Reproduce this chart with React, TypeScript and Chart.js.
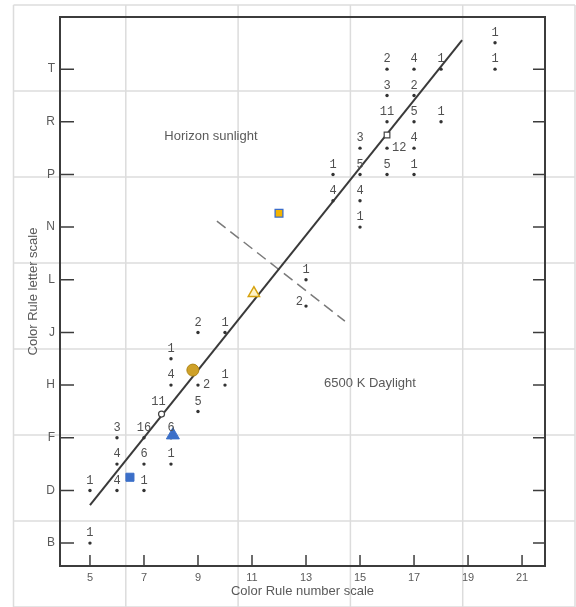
import React, { useEffect, useRef } from "react";
import { Chart, registerables } from "chart.js";

Chart.register(...registerables);

// Axis ticks
const letterTicks = ["B", "D", "F", "H", "J", "L", "N", "P", "R", "T"];
const numberTicks = [5, 7, 9, 11, 13, 15, 17, 19, 21];
const letterValue = (l: string) => l.charCodeAt(0) - 64; // A=1, B=2, ...

// Observation dots: Color Rule number (x), letter index (y), count label
const dotX = [5, 5, 6, 6, 6, 7, 7, 7, 8, 8, 8, 8, 9, 9, 9, 10, 10, 13, 13, 14, 14, 15, 15, 15, 15, 16, 16, 16, 16, 16, 17, 17, 17, 17, 17, 18, 18, 20, 20];
const dotY = [2, 4, 4, 5, 6, 4, 5, 6, 5, 6, 8, 9, 7, 8, 10, 8, 10, 11, 12, 15, 16, 14, 15, 16, 17, 16, 17, 18, 19, 20, 16, 17, 18, 19, 20, 18, 20, 20, 21];
const dotCount = ["1", "1", "4", "4", "3", "1", "6", "16", "1", "6", "4", "1", "5", "2", "2", "1", "1", "2", "1", "4", "1", "1", "4", "5", "3", "5", "12", "11", "3", "2", "1", "4", "5", "2", "4", "1", "1", "1", "1"];
const dotLabelSide = ["up", "up", "up", "up", "up", "up", "up", "up", "up", "up", "up", "up", "up", "right", "up", "up", "up", "left", "up", "up", "up", "up", "up", "up", "up", "up", "right", "up", "up", "up", "up", "up", "up", "up", "up", "up", "up", "up", "up"];

// Mean points on the fitted line
const meanX = [7.65];
const meanY = [6.9];
const meanLabel = ["11"];
const meanSquareX = [16.0];
const meanSquareY = [17.5];

// Fitted line and boundary (dashed) line
const fitX = [5.0, 18.78];
const fitY = [3.44, 21.1];
const boundaryX = [9.7, 14.44];
const boundaryY = [14.23, 10.43];

// Colored reference markers
const goldCircle = { x: 8.81, y: 8.57 };
const goldTriangle = { x: 11.07, y: 11.49 };
const goldSquare = { x: 12.0, y: 14.53 };
const blueTriangle = { x: 8.07, y: 6.1 };
const blueSquare = { x: 6.48, y: 4.5 };

// Region annotations
const noteText = ["Horizon sunlight", "6500 K Daylight"];
const noteX = [9.48, 15.37];
const noteY = [17.46, 8.08];

const TEXT = "#5a5a5a";
const FONT = "'Liberation Sans', Arial, sans-serif";

const overlayGrid = {
  id: "overlayGrid",
  beforeDraw(chart: any) {
    const { ctx, width, height } = chart;
    ctx.save();
    ctx.fillStyle = "#ffffff";
    ctx.fillRect(0, 0, width, height);
    ctx.strokeStyle = "#dcdcdc";
    ctx.lineWidth = 1.5;
    const x0 = 13.5, x1 = 575, y0 = 5, y1 = 607;
    const cols = 5, rows = 7;
    for (let i = 0; i <= cols; i++) {
      const x = x0 + ((x1 - x0) * i) / cols;
      ctx.beginPath();
      ctx.moveTo(x, y0);
      ctx.lineTo(x, height);
      ctx.stroke();
    }
    for (let j = 0; j <= rows; j++) {
      const y = y0 + ((y1 - y0) * j) / rows;
      ctx.beginPath();
      ctx.moveTo(x0, y);
      ctx.lineTo(x1, y);
      ctx.stroke();
    }
    ctx.restore();
  },
};

const frameAndTicks = {
  id: "frameAndTicks",
  afterDatasetsDraw(chart: any) {
    const { ctx, chartArea: a, scales } = chart;
    ctx.save();
    ctx.strokeStyle = "#3c3c3c";
    ctx.lineWidth = 1.5;
    scales.y.ticks.forEach((t: any) => {
      const py = scales.y.getPixelForValue(t.value);
      ctx.beginPath();
      ctx.moveTo(a.left, py);
      ctx.lineTo(a.left + 14, py);
      ctx.moveTo(a.right - 12, py);
      ctx.lineTo(a.right, py);
      ctx.stroke();
    });
    scales.x.ticks.forEach((t: any) => {
      const px = scales.x.getPixelForValue(t.value);
      ctx.beginPath();
      ctx.moveTo(px, a.bottom);
      ctx.lineTo(px, a.bottom - 11);
      ctx.stroke();
    });
    ctx.lineWidth = 2;
    ctx.strokeRect(a.left, a.top, a.right - a.left, a.bottom - a.top);

    // dot count labels
    const meta = chart.getDatasetMeta(chart.data.datasets.findIndex((d: any) => d.label === "dots"));
    ctx.fillStyle = "#505050";
    ctx.font = "12px 'Liberation Mono', 'DejaVu Sans Mono', monospace";
    ctx.textBaseline = "middle";
    meta.data.forEach((pt: any, i: number) => {
      const side = dotLabelSide[i];
      if (side === "right") {
        ctx.textAlign = "left";
        ctx.fillText(dotCount[i], pt.x + 5, pt.y);
      } else if (side === "left") {
        ctx.textAlign = "right";
        ctx.fillText(dotCount[i], pt.x - 3, pt.y - 4);
      } else {
        ctx.textAlign = "center";
        ctx.fillText(dotCount[i], pt.x, pt.y - 10);
      }
    });
    const mMeta = chart.getDatasetMeta(chart.data.datasets.findIndex((d: any) => d.label === "means"));
    mMeta.data.forEach((pt: any, i: number) => {
      ctx.textAlign = "center";
      ctx.fillText(meanLabel[i], pt.x - 3, pt.y - 12);
    });

    // annotations
    ctx.fillStyle = TEXT;
    ctx.font = `13px ${FONT}`;
    ctx.textAlign = "center";
    noteText.forEach((t, i) => {
      ctx.fillText(t, scales.x.getPixelForValue(noteX[i]), scales.y.getPixelForValue(noteY[i]));
    });
    ctx.restore();
  },
};

export default function App() {
  const ref = useRef<HTMLCanvasElement | null>(null);

  useEffect(() => {
    document.body.style.margin = "0";
    if (!ref.current) return;
    const chart = new Chart(ref.current, {
      type: "scatter",
      data: {
        datasets: [
          { label: "goldCircle", data: [goldCircle], pointStyle: "circle", pointRadius: 6, backgroundColor: "#cfa128", borderColor: "#b08616", borderWidth: 1, order: 0 },
          { label: "goldTriangle", data: [goldTriangle], pointStyle: "triangle", pointRadius: 6.5, backgroundColor: "#fff3c6", borderColor: "#d6a20e", borderWidth: 1.5, order: 0 },
          { label: "goldSquare", data: [goldSquare], pointStyle: "rect", pointRadius: 5.5, backgroundColor: "#f4b400", borderColor: "#3b6cc9", borderWidth: 1.3, order: 0 },
          { label: "blueTriangle", data: [blueTriangle], pointStyle: "triangle", pointRadius: 7.5, backgroundColor: "#3b6fc8", borderColor: "#3b6fc8", borderWidth: 1, order: 0 },
          { label: "blueSquare", data: [blueSquare], pointStyle: "rect", pointRadius: 5.7, backgroundColor: "#3b6fc8", borderColor: "#3b6fc8", borderWidth: 1, order: 0 },
          { label: "means", data: meanX.map((x, i) => ({ x, y: meanY[i] })), pointStyle: "circle", pointRadius: 3, backgroundColor: "#ffffff", borderColor: "#444", borderWidth: 1.2, order: 1 },
          { label: "meanSquare", data: meanSquareX.map((x, i) => ({ x, y: meanSquareY[i] })), pointStyle: "rect", pointRadius: 4, backgroundColor: "#ffffff", borderColor: "#444", borderWidth: 1.2, order: 1 },
          { label: "dots", data: dotX.map((x, i) => ({ x, y: dotY[i] })), pointRadius: 1.7, backgroundColor: "#333", borderWidth: 0, order: 2 },
          { label: "fit", type: "line", data: fitX.map((x, i) => ({ x, y: fitY[i] })), borderColor: "#3a3a3a", borderWidth: 2, pointRadius: 0, showLine: true, order: 3 } as any,
          { label: "boundary", type: "line", data: boundaryX.map((x, i) => ({ x, y: boundaryY[i] })), borderColor: "#7a7a7a", borderWidth: 1.5, borderDash: [11, 6], pointRadius: 0, showLine: true, order: 3 } as any,
        ],
      },
      options: {
        animation: false,
        responsive: false,
        layout: { padding: { top: 17, right: 31, left: 0, bottom: 0 } },
        plugins: { legend: { display: false }, tooltip: { enabled: false } },
        scales: {
          x: {
            type: "linear",
            min: 3.89,
            max: 21.85,
            grid: { display: false, drawTicks: false },
            border: { display: false },
            afterBuildTicks: (axis: any) => {
              axis.ticks = numberTicks.map((v) => ({ value: v }));
            },
            afterFit: (scale: any) => {
              scale.height = 41;
            },
            ticks: { color: TEXT, font: { family: FONT, size: 11 }, padding: 5, autoSkip: false, maxRotation: 0 },
            title: { display: true, text: "Color Rule number scale", color: TEXT, font: { family: FONT, size: 13 }, padding: { top: 0, bottom: 8 } },
          },
          y: {
            type: "linear",
            min: 1.13,
            max: 21.98,
            grid: { display: false, drawTicks: false },
            border: { display: false },
            afterBuildTicks: (axis: any) => {
              axis.ticks = letterTicks.map((l) => ({ value: letterValue(l) }));
            },
            afterFit: (scale: any) => {
              scale.width = 60;
            },
            ticks: {
              color: TEXT,
              font: { family: FONT, size: 12 },
              padding: 5,
              autoSkip: false,
              callback: (v: any) => letterTicks.find((l) => letterValue(l) === v) ?? "",
            },
            title: { display: true, text: "Color Rule letter scale", color: TEXT, font: { family: FONT, size: 13 }, padding: { top: 26, bottom: 0 } },
          },
        },
      },
      plugins: [overlayGrid, frameAndTicks],
    } as any);
    return () => chart.destroy();
  }, []);

  return <canvas ref={ref} width={576} height={607} style={{ display: "block" }} />;
}
